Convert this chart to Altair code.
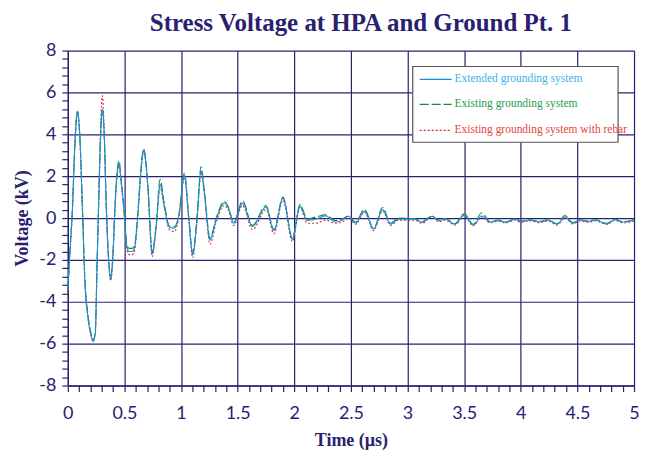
import altair as alt
import pandas as pd

# ---- data ----
T = [0.0, 0.02, 0.04, 0.06, 0.085, 0.105, 0.13, 0.15, 0.18, 0.205, 0.223, 0.243, 0.258, 0.273, 0.29,
     0.305, 0.32, 0.34, 0.355, 0.379, 0.40, 0.414, 0.435, 0.452, 0.47, 0.50, 0.52, 0.54, 0.57, 0.59,
     0.62, 0.645, 0.67, 0.69, 0.707, 0.745, 0.78, 0.815, 0.853, 0.897, 0.94, 0.979, 1.03, 1.067, 1.103,
     1.138, 1.177, 1.206, 1.256, 1.31, 1.382, 1.42, 1.465, 1.543, 1.63, 1.75, 1.82, 1.90, 1.983, 2.05,
     2.115, 2.19, 2.277, 2.365, 2.42, 2.48, 2.54, 2.62, 2.70, 2.78, 2.85, 2.92, 3.01, 3.06, 3.13,
     3.215, 3.275, 3.33, 3.42, 3.50, 3.58, 3.655, 3.73, 3.80, 3.87, 3.95, 4.0, 4.08, 4.17, 4.24,
     4.32, 4.39, 4.46, 4.52, 4.59, 4.66, 4.76, 4.83, 4.9, 5.0]

V_EXTENDED = [-3.45, -1.5, 0.3, 3.2, 5.1, 4.0, 0.3, -2.9, -4.8, -5.6, -5.9, -5.5, -2.3, 0.8, 4.0,
              5.2, 4.2, 0.5, -1.5, -2.9, -1.6, 0.2, 2.1, 2.6, 1.8, 0.1, -1.3, -1.6, -1.6, -1.4,
              0.3, 2.2, 3.25, 2.6, 1.5, -1.7, -0.4, 1.6, 0.55, -0.43, -0.48, 0.07, 2.05, 0.07, -1.75,
              -0.24, 2.25, 1.2, -1.05, -0.08, 0.72, 0.45, -0.25, 0.7, -0.4, 0.52, -0.59, 0.95, -1.0, 0.56,
              -0.11, -0.05, 0.1, -0.19, -0.1, 0.08, -0.24, 0.32, -0.52, 0.4, -0.29, -0.05, -0.05, -0.05, -0.2,
              0.08, -0.13, -0.05, -0.29, 0.16, -0.33, 0.1, -0.19, -0.12, -0.2, -0.05, -0.16, -0.1, -0.18, -0.1,
              -0.29, 0.05, -0.24, -0.1, -0.16, -0.1, -0.27, -0.08, -0.19, -0.1]

V_EXISTING = [-3.5, -1.4, 0.4, 3.2, 5.05, 4.0, 0.35, -2.8, -4.7, -5.5, -5.85, -5.4, -2.2, 0.9, 4.0,
              5.1, 4.1, 0.6, -1.4, -2.75, -1.5, 0.3, 2.2, 2.75, 1.9, 0.2, -1.2, -1.45, -1.45, -1.3,
              0.4, 2.3, 3.3, 2.7, 1.6, -1.6, -0.3, 1.85, 0.65, -0.38, -0.42, 0.12, 2.15, 0.12, -1.65,
              -0.15, 2.45, 1.3, -0.95, 0.0, 0.8, 0.5, -0.2, 0.82, -0.35, 0.6, -0.55, 1.0, -0.95, 0.65,
              -0.05, 0.05, 0.15, -0.12, -0.05, 0.1, -0.2, 0.42, -0.5, 0.5, -0.25, 0.0, -0.02, -0.03, -0.17,
              0.1, -0.1, -0.02, -0.26, 0.2, -0.3, 0.25, -0.17, -0.1, -0.18, -0.03, -0.14, -0.08, -0.16, -0.08,
              -0.27, 0.12, -0.22, -0.08, -0.14, -0.08, -0.25, -0.06, -0.17, -0.08]

V_REBAR = [-3.6, -1.6, 0.3, 3.3, 5.1, 4.0, 0.2, -3.0, -4.9, -5.6, -5.85, -5.4, -2.4, 0.8, 4.5,
           5.85, 4.4, 0.4, -1.6, -3.0, -1.7, 0.1, 2.0, 2.5, 1.7, 0.0, -1.45, -1.75, -1.75, -1.55,
           0.2, 2.1, 3.2, 2.5, 1.4, -1.85, -0.5, 1.45, 0.45, -0.55, -0.65, -0.05, 1.95, -0.05, -1.9,
           -0.35, 2.2, 1.1, -1.25, -0.2, 0.6, 0.35, -0.35, 0.6, -0.55, 0.4, -0.75, 0.85, -1.12, 0.5,
           -0.25, -0.25, -0.1, -0.25, -0.2, 0.0, -0.3, 0.28, -0.6, 0.35, -0.35, -0.1, -0.1, -0.1, -0.25,
           0.05, -0.18, -0.1, -0.33, 0.12, -0.37, 0.05, -0.23, -0.16, -0.24, -0.1, -0.2, -0.14, -0.22, -0.14,
           -0.33, 0.0, -0.28, -0.14, -0.2, -0.14, -0.31, -0.12, -0.23, -0.14]

SERIES = ["Extended grounding system", "Existing grounding system", "Existing grounding system with rebar"]
LINE_COLORS = ["#1b8fd6", "#138a45", "#e02a2a"]
TEXT_COLORS = ["#3cb2ea", "#1e9a50", "#e8433d"]
DASHES = [[1, 0], [9, 3], [2, 2]]

X_TICKS = [round(0.1 * i, 1) for i in range(51)]
Y_TICKS = [round(-8 + 0.4 * i, 1) for i in range(41)]

NAVY = "#2a2070"

frames = []
for name, vals in zip(SERIES, [V_EXTENDED, V_EXISTING, V_REBAR]):
    frames.append(pd.DataFrame({"t": T, "v": vals, "series": name}))

x_enc = alt.X("t:Q", scale=alt.Scale(domain=[0, 5], nice=False, zero=False),
              axis=alt.Axis(values=X_TICKS, title="Time (µs)",
                            labelExpr="abs(datum.value/0.5 - round(datum.value/0.5)) < 0.001 ? '' + datum.value : ''",
                            gridOpacity={"condition": {"test": "abs(datum.value/0.5 - round(datum.value/0.5)) < 0.001", "value": 1}, "value": 0},
                            labelOverlap=False, labelFlush=False, tickSize=6, labelPadding=13,
                            titlePadding=9))
y_enc = alt.Y("v:Q", scale=alt.Scale(domain=[-8, 8], nice=False, zero=False),
              axis=alt.Axis(values=Y_TICKS, title="Voltage (kV)",
                            labelExpr="abs(datum.value/2 - round(datum.value/2)) < 0.001 ? '' + datum.value : ''",
                            gridOpacity={"condition": {"test": "abs(datum.value/2 - round(datum.value/2)) < 0.001", "value": 1}, "value": 0},
                            labelOverlap=False, labelFlush=False, tickSize=6, labelPadding=6,
                            titlePadding=7))

layers = []
for i in [2, 1, 0]:
    layers.append(
        alt.Chart(frames[i]).mark_line(interpolate="monotone", strokeWidth=1.1,
                                       color=LINE_COLORS[i], strokeDash=DASHES[i])
        .encode(x=x_enc, y=y_enc)
    )

one = alt.Data(values=[{"k": 1}])
legend_box = alt.Chart(one).mark_rect(fill="white", stroke="#555555", strokeWidth=1.2).encode(
    x=alt.value(346), x2=alt.value(552), y=alt.value(16), y2=alt.value(92))
layers.append(legend_box)
ys = [29, 54, 80]
for i in range(3):
    layers.append(alt.Chart(one).mark_rule(color=LINE_COLORS[i], strokeWidth=1.2, strokeDash=DASHES[i]).encode(
        x=alt.value(353), x2=alt.value(385), y=alt.value(ys[i])))
    layers.append(alt.Chart(one).mark_text(align="left", baseline="middle", font="Liberation Serif",
                                           fontSize=11.5, color=TEXT_COLORS[i], text=SERIES[i]).encode(
        x=alt.value(388), y=alt.value(ys[i])))

chart = alt.layer(*layers).properties(
    width=568, height=336,
    autosize="none",
    padding={"left": 60, "top": 42, "right": 10, "bottom": 65},
    title=alt.TitleParams("Stress Voltage at HPA and Ground Pt. 1", font="Liberation Serif",
                          fontSize=25, fontWeight="bold", color=NAVY, anchor="middle",
                          dx=10, offset=6),
).configure_view(stroke=None).configure_axis(
    domainColor=NAVY, domainWidth=1.3, gridColor=NAVY, gridWidth=1.2,
    tickColor=NAVY, tickWidth=1.2, labelColor=NAVY, labelFont="Lato", labelFontSize=18,
    titleFont="Liberation Serif", titleFontSize=18, titleFontWeight="bold", titleColor=NAVY,
)

chart.save("out.html", embed_options={"renderer": "svg", "actions": False})
